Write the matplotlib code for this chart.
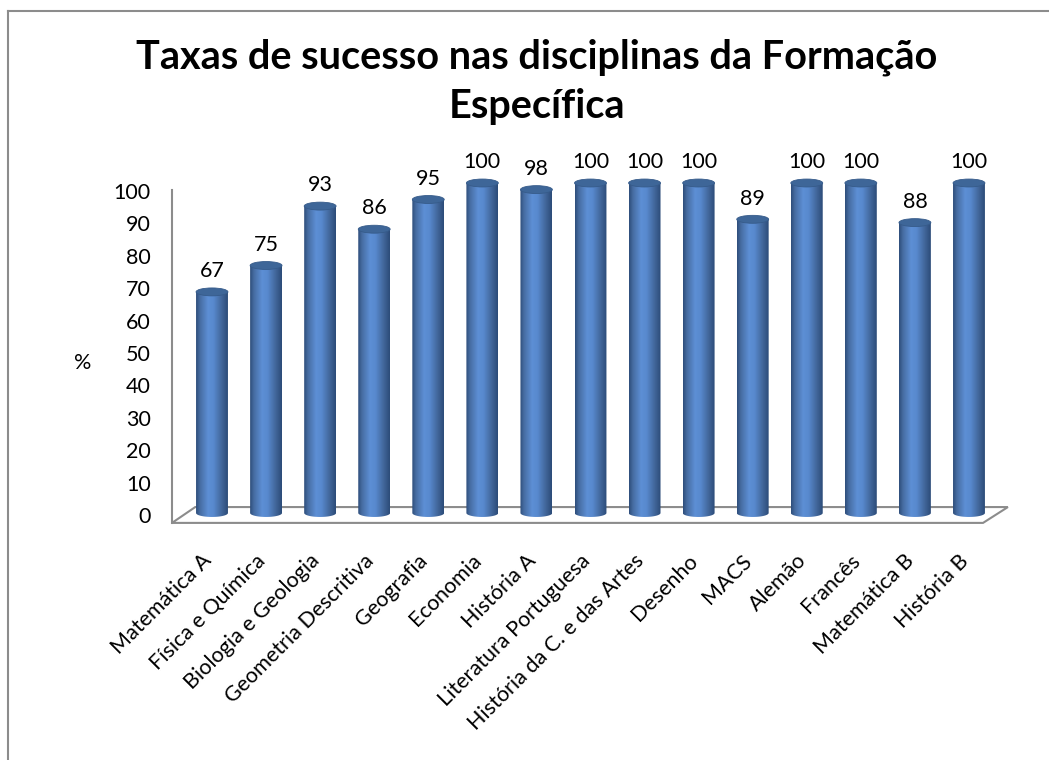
import numpy as np
import matplotlib
matplotlib.use('Agg')
import matplotlib.pyplot as plt
from matplotlib.patches import Ellipse, PathPatch, Polygon
from matplotlib.path import Path
from matplotlib.colors import LinearSegmentedColormap
from matplotlib.lines import Line2D

plt.rcParams['font.family'] = ['Lato', 'DejaVu Sans']

# 数据：各学科的成功率（%）
disciplinas = ['Matemática A', 'Física e Química', 'Biologia e Geologia',
               'Geometria Descritiva', 'Geografia', 'Economia', 'História A',
               'Literatura Portuguesa', 'História da C. e das Artes', 'Desenho',
               'MACS', 'Alemão', 'Francês', 'Matemática B', 'História B']
taxas = [67, 75, 93, 86, 95, 100, 98, 100, 100, 100, 89, 100, 100, 88, 100]
yticks = list(range(0, 101, 10))

titulo = 'Taxas de sucesso nas disciplinas da Formação\nEspecífica'

# 圆柱体的横向渐变（左暗-中亮-右暗）
cmap_cil = LinearSegmentedColormap.from_list('cil', [
    (0.00, '#2d4d7a'), (0.12, '#466ca1'), (0.38, '#5d8fd5'),
    (0.55, '#5889ce'), (0.80, '#42679b'), (1.00, '#2c4b78')])
cor_topo = '#3e6698'
cor_eixo = '#8c8c8c'
fs = 15.5

W, H = 1049, 760
fig = plt.figure(figsize=(W / 100, H / 100), dpi=100)
ax = fig.add_axes([0, 0, 1, 1])
ax.set_axis_off()

# 像素 -> 数据坐标：x = 212 + 54.07*i，y = 513 - 3.3*v
XL = (-212 / 54.07, (W - 212) / 54.07)
YL = ((513 - H) / 3.3, 513 / 3.3)


def cilindro(ax, x, h, w=0.295, eh=2.4):
    t = np.linspace(np.pi, 2 * np.pi, 40)
    arco = np.column_stack([x + w * np.cos(t), eh / 2 * np.sin(t)])
    verts = [(x - w, h)] + arco.tolist() + [(x + w, h), (x - w, h)]
    codes = [Path.MOVETO] + [Path.LINETO] * (len(verts) - 2) + [Path.CLOSEPOLY]
    corpo = PathPatch(Path(verts, codes), facecolor='none', edgecolor='none')
    ax.add_patch(corpo)
    grad = np.linspace(0, 1, 256).reshape(1, -1)
    im = ax.imshow(grad, cmap=cmap_cil, extent=[x - w, x + w, -eh / 2, h],
                   aspect='auto', zorder=3, interpolation='bilinear')
    im.set_clip_path(corpo)
    ax.add_patch(Ellipse((x, h), 2 * w, eh, facecolor=cor_topo,
                         edgecolor='#365b8a', lw=0.6, zorder=4))


# 基底平面（平行四边形）与纵轴线
chao = Polygon([(-0.74, -3.0), (14.26, -3.0), (14.72, 1.8), (-0.31, 1.8)],
               closed=True, fill=False, edgecolor=cor_eixo, lw=1.5, zorder=1)
ax.add_patch(chao)
ax.plot([-0.74, -0.74], [-3.0, 97.9], color=cor_eixo, lw=1.5, zorder=1)

for i, v in enumerate(taxas):
    cilindro(ax, i, v)
    ax.text(i, v + 6.3, str(v), ha='center', va='center', fontsize=fs, zorder=5)

# 纵轴刻度标签（前平面位置）
for t in yticks:
    ax.text(-1.13, 0.982 * t - 1.21, str(t), ha='right', va='center', fontsize=fs)
ax.text(-2.40, 45.4, '%', ha='center', va='center', fontsize=fs)

# 横轴分类标签，旋转 45°
for i, nome in enumerate(disciplinas):
    ax.text(i - 0.07, -13.5, nome, ha='right', va='center', rotation=45,
            rotation_mode='anchor', fontsize=fs)

ax.set_xlim(*XL)
ax.set_ylim(*YL)

fig.text(537 / W, 1 - 82 / H, titulo, ha='center', va='center',
         fontsize=28.5, fontweight='bold', linespacing=1.4)

# 外框（上边与左边）
fig.add_artist(Line2D([8 / W, 1], [1 - 11 / H, 1 - 11 / H], color=cor_eixo,
                      lw=1.5, transform=fig.transFigure))
fig.add_artist(Line2D([8 / W, 8 / W], [0, 1 - 11 / H], color=cor_eixo,
                      lw=1.5, transform=fig.transFigure))

fig.savefig('out.png', dpi=100)
